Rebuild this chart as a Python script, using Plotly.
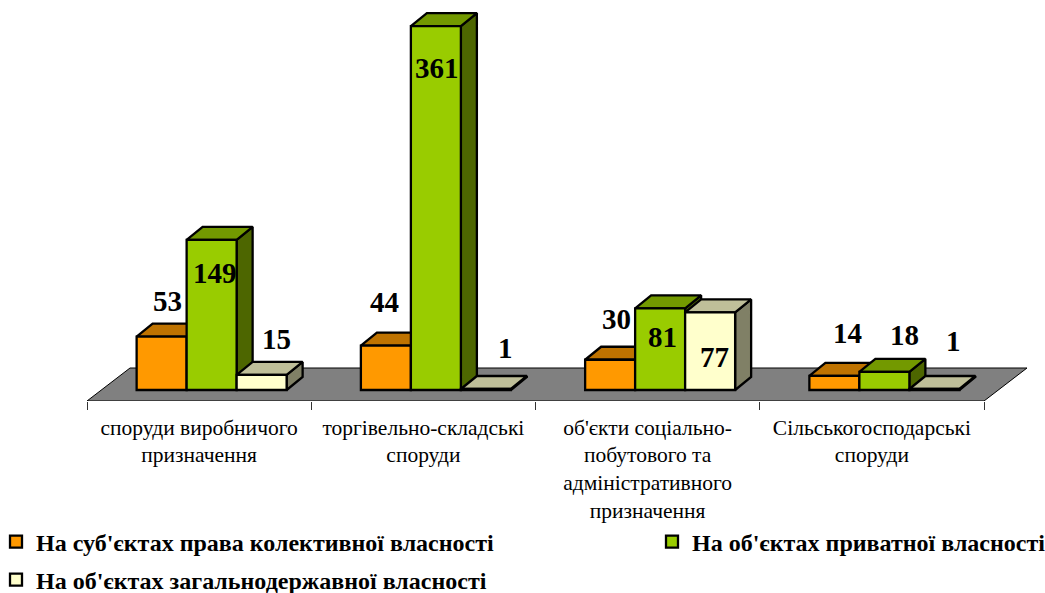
import plotly.graph_objects as go

categories = ["споруди виробничого<br>призначення",
              "торгівельно-складські<br>споруди",
              "об'єкти соціально-<br>побутового та<br>адміністративного<br>призначення",
              "Сільськогосподарські<br>споруди"]
series_names = ["На суб'єктах права колективної власності",
                "На об'єктах приватної власності",
                "На об'єктах загальнодержавної власності"]
collective = [53, 44, 30, 14]
private = [149, 361, 81, 18]
state = [15, 1, 77, 1]
all_series = [collective, private, state]

front_colors = ["#FF9900", "#99CC00", "#FFFFCC"]
top_colors = ["#BF7300", "#739900", "#BFBF99"]
side_colors = ["#805000", "#4D6600", "#808066"]

# label offsets from the top centre of each bar (px right, px up)
label_shift = [[(6, 36), (3, -33), (15, 36)],
               [(-1, 44), (1, -42), (20, 41)],
               [(6, 41), (2, -29), (4, -45)],
               [(13, 43), (20, 37), (19, 48)]]

W, H = 1045, 593
L, R, T, B = 87, 1030, 0, 401
px_x = 224.25               # px per category
px_y = 1.008                # px per value unit
BASE = 11 / px_y
bar_w = 50 / px_x
shift = 12.5 / px_x
dx, dy = 16 / px_x, 13 / px_y
floor_dx, floor_dy = 43 / px_x, 33 / px_y
yr = [-BASE, (B - T) / px_y - BASE]
xr = [-0.5, -0.5 + (R - L) / px_x]
FONT = "Liberation Serif"
EDGE = 2.3

fig = go.Figure()


def poly(xs, ys, color, width=EDGE):
    fig.add_trace(go.Scatter(x=xs + xs[:1], y=ys + ys[:1], mode="lines", fill="toself",
                             fillcolor=color, line=dict(color="black", width=width),
                             showlegend=False, hoverinfo="skip", cliponaxis=False,
                             xaxis="x", yaxis="y"))


# floor
poly([-0.5, 3.5, 3.5 + floor_dx, -0.5 + floor_dx],
     [-BASE, -BASE, -BASE + floor_dy, -BASE + floor_dy], "#808080", 1)

# side and top faces
for c in range(len(categories)):
    for s, vals in enumerate(all_series):
        v = vals[c]
        x0 = c + shift + (s - 1.5) * bar_w
        x1 = x0 + bar_w
        poly([x1, x1 + dx, x1 + dx, x1], [0, dy, v + dy, v], side_colors[s])
        poly([x0, x1, x1 + dx, x0 + dx], [v, v, v + dy, v + dy], top_colors[s])

# front faces
for s, vals in enumerate(all_series):
    fig.add_trace(go.Bar(x=list(range(4)), y=vals, name=series_names[s],
                         marker=dict(color=front_colors[s], line=dict(color="black", width=EDGE)),
                         xaxis="x2", yaxis="y2", hoverinfo="skip",
                         legend="legend" if s == 0 else f"legend{s + 1}"))

# data labels
anns = []
for c in range(4):
    for s, vals in enumerate(all_series):
        sx, sy = label_shift[c][s]
        anns.append(dict(x=c + (s - 1) * bar_w, y=vals[c], xref="x2", yref="y2",
                         text=str(vals[c]), showarrow=False, xanchor="center", yanchor="middle",
                         xshift=sx, yshift=sy,
                         font=dict(family=FONT, size=29, color="black", weight="bold")))


def legend_at(px_left, px_mid):
    return dict(x=(px_left - L) / (R - L), y=(B - px_mid) / (B - T),
                xanchor="left", yanchor="middle",
                font=dict(family=FONT, size=24, color="black", weight="bold"),
                bgcolor="rgba(0,0,0,0)", borderwidth=0, orientation="v")


fig.update_layout(
    width=W, height=H, autosize=False,
    margin=dict(l=L, r=W - R, t=T, b=H - B, pad=0, autoexpand=False),
    paper_bgcolor="white", plot_bgcolor="rgba(0,0,0,0)",
    barmode="group", bargap=1 - 3 * bar_w, bargroupgap=0,
    annotations=anns,
    legend=legend_at(-4, 542), legend2=legend_at(652, 542), legend3=legend_at(-4, 580),
    xaxis=dict(range=xr, tickvals=list(range(4)), ticktext=categories, ticks="",
               ticklabelstandoff=11, showgrid=False, zeroline=False, showline=False,
               tickfont=dict(family=FONT, size=21.5, color="black"),
               minor=dict(tickvals=[-0.5, 0.5, 1.5, 2.5, 3.5], ticks="outside", ticklen=8,
                          tickcolor="#333333", tickwidth=1, showgrid=False)),
    yaxis=dict(range=yr, visible=False),
    xaxis2=dict(range=[xr[0] - shift, xr[1] - shift], overlaying="x", visible=False, anchor="y2"),
    yaxis2=dict(range=yr, overlaying="y", visible=False, anchor="x2"),
)
fig.write_html("out.html", post_script="document.body.style.margin='0';",
               config={"displayModeBar": False})
